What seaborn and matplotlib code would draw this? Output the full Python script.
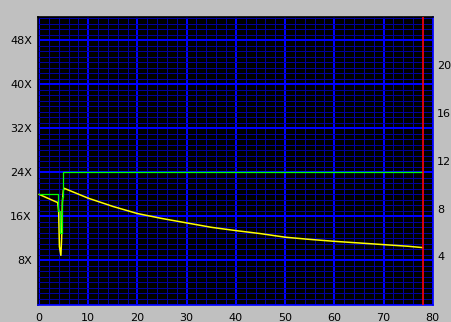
import numpy as np
import pandas as pd
import matplotlib
matplotlib.use("Agg")
import matplotlib.pyplot as plt
from matplotlib.ticker import MultipleLocator, FixedLocator
import seaborn as sns

# ---- data ----
speed_pos = [0, 3.8, 4.0, 4.15, 4.45, 4.6, 4.75, 4.95, 5.1, 10, 15, 20, 25, 30,
             35, 40, 45, 50, 55, 60, 65, 70, 75, 78]
speed_val = [20.0, 18.5, 16.9, 10.5, 8.9, 12.0, 18.5, 20.7, 21.1, 19.3, 17.8, 16.5,
             15.6, 14.8, 14.0, 13.4, 12.85, 12.2, 11.8, 11.45, 11.15, 10.85, 10.55, 10.3]
target_pos = [0, 3.9, 3.9, 4.25, 4.25, 4.75, 4.75, 4.95, 4.95, 78]
target_val = [20, 20, 17.0, 17.0, 13.0, 13.0, 19.5, 19.5, 24, 24]
end_marker = 78.0
left_ticks = [8, 16, 24, 32, 40, 48]
left_labels = ["8X", "16X", "24X", "32X", "40X", "48X"]
right_ticks = [4, 8, 12, 16, 20]
bottom_ticks = [0, 10, 20, 30, 40, 50, 60, 70, 80]

speed_df = pd.DataFrame({"pos": speed_pos, "val": speed_val})
target_df = pd.DataFrame({"pos": target_pos, "val": target_val})

sns.set_style("dark")
plt.rcParams["font.family"] = ["DejaVu Sans"]

fig = plt.figure(figsize=(4.51, 3.22), dpi=100, facecolor="#C0C0C0")
W, H = 451, 322
ax = fig.add_axes([37.5 / W, (H - 304.8) / H, (433 - 37.5) / W, (304.8 - 16.5) / H])
ax.set_facecolor("black")

ax.set_xlim(-0.3, 80.05)
ax.set_ylim(-0.1, 52.35)

ax.xaxis.set_major_locator(FixedLocator(bottom_ticks))
ax.xaxis.set_minor_locator(MultipleLocator(2))
ax.yaxis.set_major_locator(FixedLocator(left_ticks))
ax.yaxis.set_minor_locator(MultipleLocator(1))
ax.set_yticklabels(left_labels)

ax.grid(True, which="minor", color="#0000A0", linewidth=0.72, antialiased=False)
ax.grid(True, which="major", color="#0000FF", linewidth=1.3, antialiased=False)
ax.set_axisbelow(True)

ax.tick_params(axis="both", which="both", length=0, labelsize=8, colors="black")
ax.tick_params(axis="y", pad=4)
ax.tick_params(axis="x", pad=6)

sns.lineplot(data=speed_df, x="pos", y="val", sort=False, ax=ax, color="#FFFF00",
             linewidth=1.1, zorder=3, estimator=None)
sns.lineplot(data=target_df, x="pos", y="val", sort=False, ax=ax, color="#00FF00",
             linewidth=0.9, zorder=4, estimator=None)
ax.axvline(end_marker, color="#FF0000", linewidth=1.2, zorder=5, antialiased=True)

ax.set_xlabel("")
ax.set_ylabel("")

for side, col in [("left", "black"), ("top", "black"), ("right", "#0000FF"), ("bottom", "#0000FF")]:
    ax.spines[side].set_visible(True)
    ax.spines[side].set_color(col)
    ax.spines[side].set_linewidth(1.2)

ax2 = ax.twinx()
ax2.set_ylim(-0.1 / 2.175, 52.35 / 2.175)
ax2.yaxis.set_major_locator(FixedLocator(right_ticks))
ax2.tick_params(axis="y", length=0, labelsize=8, colors="black", pad=3)
ax2.grid(False)
for s in ax2.spines.values():
    s.set_visible(False)

fig.savefig("out.png", dpi=100, facecolor=fig.get_facecolor())
